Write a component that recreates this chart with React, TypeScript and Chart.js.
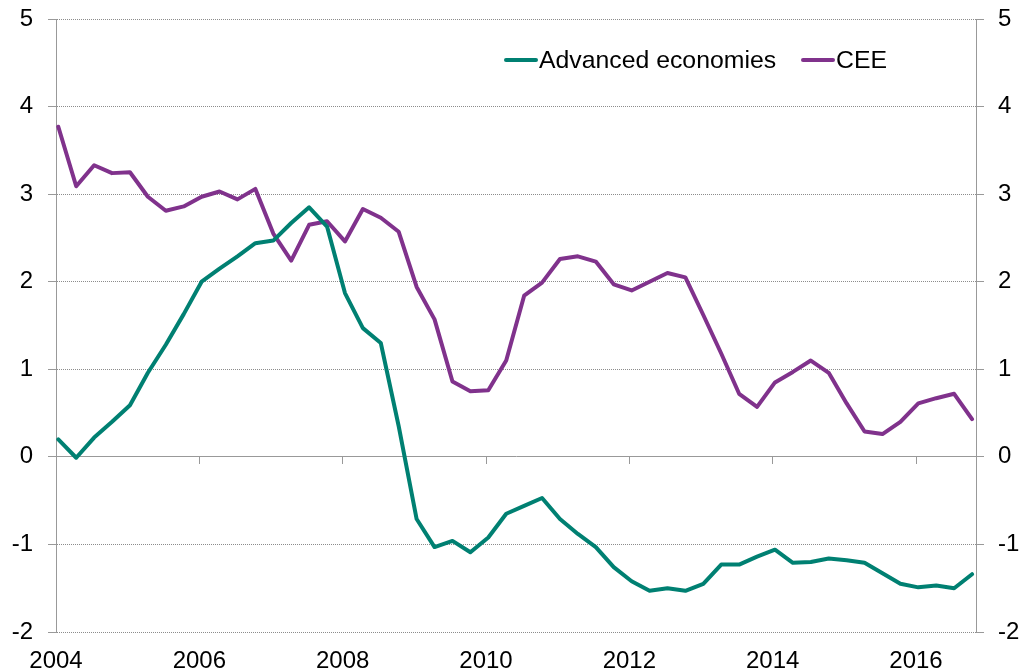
import React, { useEffect, useRef } from "react";
import { Chart, registerables } from "chart.js";

Chart.register(...registerables);

// Quarterly categories 2004Q1 .. 2016Q4
const quarters: string[] = Array.from({ length: 52 }, (_, i) => `${2004 + Math.floor(i / 4)}Q${(i % 4) + 1}`);

const advancedEconomies: number[] = [
  0.20, -0.01, 0.22, 0.40, 0.59, 0.96, 1.28, 1.63,
  2.00, 2.15, 2.29, 2.44, 2.47, 2.67, 2.85, 2.63,
  1.87, 1.47, 1.30, 0.35, -0.71, -1.03, -0.96, -1.09,
  -0.92, -0.65, -0.56, -0.47, -0.71, -0.88, -1.03, -1.26,
  -1.42, -1.53, -1.50, -1.53, -1.45, -1.23, -1.23, -1.14,
  -1.06, -1.21, -1.20, -1.16, -1.18, -1.21, -1.33, -1.45,
  -1.49, -1.47, -1.50, -1.34,
];

const cee: number[] = [
  3.77, 3.09, 3.33, 3.24, 3.25, 2.97, 2.81, 2.86,
  2.97, 3.03, 2.94, 3.06, 2.55, 2.24, 2.65, 2.69,
  2.46, 2.83, 2.73, 2.57, 1.94, 1.57, 0.86, 0.75,
  0.76, 1.10, 1.84, 1.99, 2.26, 2.29, 2.23, 1.97,
  1.90, 2.00, 2.10, 2.05, 1.62, 1.18, 0.72, 0.57,
  0.85, 0.97, 1.10, 0.96, 0.61, 0.29, 0.26, 0.40,
  0.61, 0.67, 0.72, 0.43,
];

const tickYears: number[] = [2004, 2006, 2008, 2010, 2012, 2014, 2016];
const tickLabels: string[] = ["2004", "2006", "2008", "2010", "2012", "2014", "2016"];
const yTicks: number[] = [-2, -1, 0, 1, 2, 3, 4, 5];

const seriesNames = ["Advanced economies", "CEE"];
const TEAL = "#008072";
const PURPLE = "#80328C";
const AXIS_GRAY = "#999999";
const GRID_GRAY = "#8c8c8c";
const FONT_FAMILY = "'Liberation Sans', Arial, sans-serif";

const TICK_SHIFT = -0.032;
const X_MIN = 2004 + TICK_SHIFT;
const X_MAX = 2016.805;

function quarterToX(q: string): number {
  const year = parseInt(q.slice(0, 4), 10);
  const qn = parseInt(q.slice(5), 10);
  return year + (qn - 1) / 4;
}

export default function App() {
  const canvasRef = useRef<HTMLCanvasElement | null>(null);

  useEffect(() => {
    if (!canvasRef.current) return;
    const font = { family: FONT_FAMILY, size: 24 };
    const setYearTicks = (s: any) => {
      s.ticks = tickYears.map((y) => ({ value: y + TICK_SHIFT }));
    };
    const chart = new Chart(canvasRef.current, {
      type: "line",
      data: {
        datasets: [
          {
            label: seriesNames[0],
            data: quarters.map((q, i) => ({ x: quarterToX(q), y: advancedEconomies[i] })),
            borderColor: TEAL,
            backgroundColor: TEAL,
            borderWidth: 4,
            pointRadius: 0,
            tension: 0,
            borderJoinStyle: "round",
            borderCapStyle: "round",
          },
          {
            label: seriesNames[1],
            data: quarters.map((q, i) => ({ x: quarterToX(q), y: cee[i] })),
            borderColor: PURPLE,
            backgroundColor: PURPLE,
            borderWidth: 4,
            pointRadius: 0,
            tension: 0,
            borderJoinStyle: "round",
            borderCapStyle: "round",
          },
        ],
      },
      options: {
        responsive: false,
        animation: false,
        events: [],
        layout: { padding: { top: 19, left: 0, right: 0, bottom: 0 } },
        plugins: {
          legend: { display: false },
          tooltip: { enabled: false },
        },
        scales: {
          x: {
            type: "linear",
            position: "bottom",
            min: X_MIN,
            max: X_MAX,
            afterBuildTicks: setYearTicks,
            afterFit: (s: any) => {
              s.height = 40;
              s.paddingLeft = 0;
              s.paddingRight = 0;
            },
            ticks: {
              callback: (_v: any, i: number) => tickLabels[i],
              padding: 15,
              font,
              color: "#000",
              maxRotation: 0,
              autoSkip: false,
            },
            grid: { display: false, drawTicks: false },
            border: { display: false },
          },
          x0: {
            type: "linear",
            axis: "x",
            position: { y: 0 },
            min: X_MIN,
            max: X_MAX,
            afterBuildTicks: setYearTicks,
            ticks: { display: false },
            grid: {
              drawOnChartArea: false,
              drawTicks: true,
              tickLength: 7,
              color: AXIS_GRAY,
              tickColor: AXIS_GRAY,
            },
            border: { display: true, color: AXIS_GRAY, width: 1 },
          } as any,
          y: {
            position: "left",
            min: -2,
            max: 5,
            afterBuildTicks: (s: any) => {
              s.ticks = yTicks.map((v) => ({ value: v }));
            },
            afterFit: (s: any) => {
              s.width = 56;
              s.paddingTop = 0;
              s.paddingBottom = 0;
            },
            ticks: { padding: 15, font, color: "#000" },
            grid: {
              color: (ctx: any) => (ctx.tick && ctx.tick.value === 0 ? "rgba(0,0,0,0)" : GRID_GRAY),
              tickColor: AXIS_GRAY,
              drawTicks: true,
              tickLength: 8,
              lineWidth: 1,
            },
            border: { display: true, color: AXIS_GRAY, width: 1, dash: [1, 1] },
          },
          y2: {
            position: "right",
            min: -2,
            max: 5,
            afterBuildTicks: (s: any) => {
              s.ticks = yTicks.map((v) => ({ value: v }));
            },
            afterFit: (s: any) => {
              s.width = 43;
              s.paddingTop = 0;
              s.paddingBottom = 0;
            },
            ticks: { padding: 14, font, color: "#000" },
            grid: {
              drawOnChartArea: false,
              drawTicks: true,
              tickLength: 8,
              color: AXIS_GRAY,
              tickColor: AXIS_GRAY,
            },
            border: { display: true, color: AXIS_GRAY, width: 1 },
          },
        },
      } as any,
    });
    return () => chart.destroy();
  }, []);

  const legendItem = (name: string, color: string, marginLeft: number) => (
    <div key={name} style={{ display: "flex", alignItems: "center", marginLeft }}>
      <span
        style={{
          display: "inline-block",
          width: 34,
          height: 4,
          borderRadius: 2,
          background: color,
          marginRight: 1,
        }}
      />
      <span>{name}</span>
    </div>
  );

  return (
    <div style={{ position: "absolute", left: 0, top: 0, width: 1019, height: 672, background: "#fff" }}>
      <canvas ref={canvasRef} width={1019} height={672} style={{ display: "block" }} />
      <div
        style={{
          position: "absolute",
          left: 504,
          top: 46,
          height: 28,
          display: "flex",
          alignItems: "center",
          fontFamily: FONT_FAMILY,
          fontSize: 24.8,
          lineHeight: "28px",
          color: "#000",
          whiteSpace: "nowrap",
        }}
      >
        {legendItem(seriesNames[0], TEAL, 0)}
        {legendItem(seriesNames[1], PURPLE, 25)}
      </div>
    </div>
  );
}
